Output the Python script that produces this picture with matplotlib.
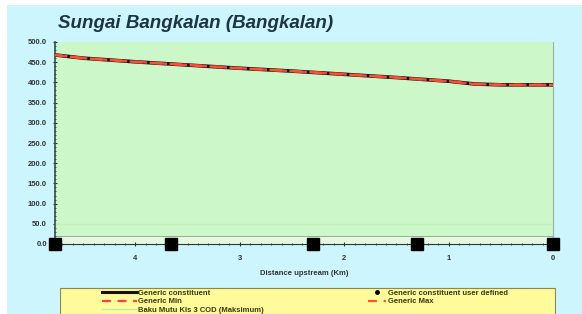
import numpy as np
import matplotlib
matplotlib.use('Agg')
from matplotlib import pyplot as plt
from matplotlib.patches import Rectangle
from matplotlib.lines import Line2D
from matplotlib.ticker import MultipleLocator, FormatStrFormatter

dist = [4.77, 4.5, 4.0, 3.5, 3.0, 2.5, 2.0, 1.5, 1.0, 0.75, 0.5, 0.0]
generic = [468, 460, 451, 443, 435, 428, 420, 412, 403, 396, 394, 394]
gen_min = [468, 460, 451, 443, 435, 428, 420, 412, 403, 396, 394, 394]
gen_max = [468, 460, 451, 443, 435, 428, 420, 412, 403, 396, 394, 394]
user_x = [4.77, 3.66, 2.3, 1.3, 0.0]
user_y = [0, 0, 0, 0, 0]
baku_mutu = 50

plt.rcParams['font.family'] = ['Liberation Sans', 'DejaVu Sans']

fig = plt.figure(figsize=(5.82, 3.14), dpi=100)
fig.patch.set_facecolor('white')
fig.patches.append(Rectangle((7/582, 0), 1, 1 - 5/314, transform=fig.transFigure,
                             facecolor='#ccf5fd', edgecolor='none', zorder=-10))

ax = fig.add_axes([55/582, 1 - 244/314, 498/582, 202/314])
ax.set_facecolor('#ccf7c8')
ax.axhspan(0, 19, facecolor='#e4fae0', edgecolor='none', zorder=0)
ax.axhline(19, color='#8aa08a', lw=0.6, zorder=1)

ax.plot(dist, generic, color='#111111', lw=2.6, zorder=3)
ax.plot(user_x, user_y, 's', color='black', ms=8.5, clip_on=False, zorder=5)
ax.plot(dist, gen_min, color='#ff4040', lw=1.8, ls=(0, (5, 3)), zorder=4)
ax.plot(dist, gen_max, color='#ff5030', lw=1.8, ls=(2, (5, 3)), zorder=4)
ax.axhline(baku_mutu, color='#c0f2bc', lw=1.0, zorder=2)

ax.set_xlim(4.77, 0)
ax.set_ylim(0, 500)
ax.xaxis.set_major_locator(MultipleLocator(1))
ax.xaxis.set_minor_locator(MultipleLocator(0.1))
ax.yaxis.set_major_locator(MultipleLocator(50))
ax.yaxis.set_minor_locator(MultipleLocator(10))
ax.yaxis.set_major_formatter(FormatStrFormatter('%.1f'))
ax.xaxis.set_major_formatter(FormatStrFormatter('%d'))
ax.tick_params(axis='both', labelsize=5.5, colors='#333333', width=0.8, length=3.5)
ax.tick_params(which='minor', length=1.8, width=0.6, color='#333333')
ax.tick_params(axis='x', which='both', direction='inout', pad=6)
ax.tick_params(axis='y', which='both', direction='inout', pad=4)
for lab in ax.get_xticklabels() + ax.get_yticklabels():
    lab.set_fontweight('bold')
ax.spines['top'].set_visible(False)
ax.spines['right'].set_color('#a0b0a8')
ax.spines['left'].set_color('#305050')
ax.spines['left'].set_linewidth(1.2)
ax.spines['bottom'].set_color('#333333')

ax.set_xlabel('Distance upstream (Km)', fontsize=5.5, fontweight='bold', color='#333333', labelpad=6)

fig.text(58/582, 1 - 23/314, 'Sungai Bangkalan (Bangkalan)', fontsize=13.5, fontweight='bold',
         style='italic', color='#1c3444', va='center')

fig.patches.append(Rectangle((60/582, -0.05), 495/582, 0.05 + 26/314, transform=fig.transFigure,
                             facecolor='#fffa9a', edgecolor='#8a8a50', lw=0.8, zorder=1))

h1 = [Line2D([], [], color='#111111', lw=2.2),
      Line2D([], [], color='#ff4040', lw=1.6, ls=(0, (4, 3))),
      Line2D([], [], color='#b8f0b0', lw=1.0)]
l1 = ['Generic constituent', 'Generic Min', 'Baku Mutu Kls 3 COD (Maksimum)']
h2 = [Line2D([], [], color='black', ls='none', marker='o', ms=2.5),
      Line2D([], [], color='#ff5030', lw=1.6, ls=(0, (4, 3)))]
l2 = ['Generic constituent user defined', 'Generic Max']

leg1 = fig.legend(h1, l1, loc='upper left', bbox_to_anchor=(98/582, 1 - 286/314), frameon=False,
                  fontsize=5.5, handlelength=4.6, handletextpad=0.2, labelspacing=0.12, borderpad=0)
leg2 = fig.legend(h2, l2, loc='upper left', bbox_to_anchor=(364/582, 1 - 286/314), frameon=False,
                  fontsize=5.5, handlelength=2.4, handletextpad=0.3, labelspacing=0.12, borderpad=0)
for leg in (leg1, leg2):
    for t in leg.get_texts():
        t.set_fontweight('bold')
        t.set_color('#3a3a10')

plt.savefig('out.png', dpi=100)
